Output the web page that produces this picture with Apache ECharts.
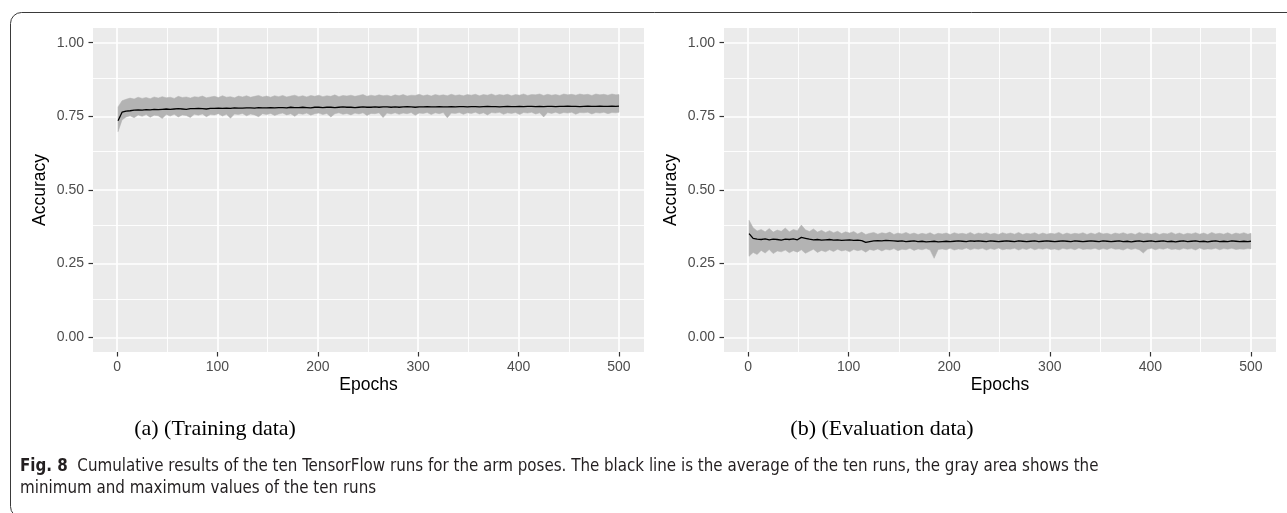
<!DOCTYPE html>
<html>
<head>
<meta charset="utf-8">
<script src="https://cdn.jsdelivr.net/npm/echarts@6/dist/echarts.min.js"></script>
<style>
html,body{margin:0;padding:0;background:#fff;}
#chart{width:1287px;height:513px;}
</style>
</head>
<body>
<div id="chart"></div>
<script>
// ---- data ----
const epochs = [1,5,9,13,17,21,25,29,33,37,41,45,49,53,57,61,65,69,73,77,81,85,89,93,97,101,105,109,113,117,121,125,129,133,137,141,145,149,153,157,161,165,169,173,177,181,185,189,193,197,201,205,209,213,217,221,225,229,233,237,241,245,249,253,257,261,265,269,273,277,281,285,289,293,297,301,305,309,313,317,321,325,329,333,337,341,345,349,353,357,361,365,369,373,377,381,385,389,393,397,401,405,409,413,417,421,425,429,433,437,441,445,449,453,457,461,465,469,473,477,481,485,489,493,497,500];

const trainMean = [.735,.764,.768,.769,.771,.772,.771,.773,.772,.774,
.773,.774,.775,.774,.775,.776,.775,.774,.776,.776,
.777,.776,.775,.777,.777,.778,.777,.778,.777,.779,
.778,.778,.779,.779,.778,.780,.779,.779,.780,.779,
.780,.780,.779,.781,.780,.780,.781,.780,.779,.781,
.781,.780,.781,.781,.780,.781,.782,.781,.781,.780,
.781,.782,.781,.781,.782,.781,.782,.782,.781,.782,
.781,.782,.783,.782,.781,.782,.782,.783,.782,.782,
.783,.782,.782,.783,.782,.783,.783,.782,.783,.783,
.782,.783,.784,.783,.783,.782,.783,.784,.783,.783,
.784,.783,.784,.784,.783,.784,.783,.784,.784,.783,
.784,.784,.785,.784,.784,.783,.784,.785,.784,.784,
.785,.784,.784,.785,.784,.785];

const trainMax = [.782,.803,.808,.812,.809,.815,.811,.814,.810,.816,
.812,.817,.813,.815,.811,.818,.814,.816,.812,.817,
.815,.819,.813,.816,.818,.814,.820,.815,.817,.813,
.819,.816,.820,.815,.818,.821,.816,.819,.815,.820,
.817,.821,.816,.819,.822,.817,.820,.816,.821,.818,
.822,.817,.820,.818,.823,.817,.821,.819,.822,.818,
.821,.824,.818,.822,.819,.823,.820,.822,.818,.823,
.820,.824,.819,.822,.821,.825,.820,.823,.819,.824,
.821,.823,.820,.825,.821,.823,.820,.824,.822,.825,
.820,.824,.822,.826,.821,.824,.822,.825,.820,.824,
.822,.826,.821,.824,.823,.826,.821,.825,.822,.824,
.821,.826,.823,.825,.822,.826,.823,.825,.821,.826,
.823,.825,.822,.826,.823,.824];

const trainMin = [.698,.738,.748,.752,.745,.755,.750,.756,.747,.754,
.752,.743,.756,.751,.757,.748,.755,.753,.746,.757,
.754,.758,.749,.756,.755,.759,.751,.757,.744,.758,
.756,.760,.752,.758,.755,.749,.759,.756,.760,.753,
.758,.761,.755,.759,.750,.760,.757,.761,.754,.759,
.761,.756,.760,.748,.759,.762,.757,.760,.755,.761,
.758,.762,.753,.760,.759,.762,.746,.761,.758,.762,
.757,.761,.759,.763,.754,.761,.760,.763,.756,.762,
.759,.763,.745,.761,.760,.763,.757,.762,.760,.764,
.758,.762,.755,.763,.761,.764,.757,.762,.760,.763,
.756,.763,.761,.764,.758,.762,.748,.763,.760,.764,
.759,.763,.761,.764,.757,.763,.762,.764,.758,.763,
.761,.764,.759,.763,.762,.764];

const evalMean = [.352,.336,.333,.332,.334,.331,.333,.332,.330,.333,
.332,.334,.331,.339,.336,.333,.331,.332,.330,.331,
.332,.330,.331,.329,.330,.331,.329,.330,.328,.322,
.325,.327,.328,.327,.329,.328,.327,.326,.327,.325,
.326,.327,.325,.326,.324,.325,.326,.324,.325,.326,
.325,.326,.327,.326,.325,.327,.326,.327,.326,.325,
.327,.326,.325,.326,.327,.326,.325,.327,.326,.325,
.326,.327,.325,.326,.327,.326,.325,.326,.327,.326,
.325,.327,.326,.325,.326,.327,.326,.325,.327,.326,
.325,.326,.327,.325,.326,.324,.326,.327,.325,.326,
.327,.325,.326,.327,.325,.326,.324,.326,.327,.325,
.326,.327,.325,.326,.324,.326,.327,.325,.326,.325,
.327,.326,.325,.326,.325,.326];

const evalMax = [.397,.372,.361,.366,.358,.369,.357,.364,.360,.371,
.358,.366,.362,.381,.365,.359,.368,.357,.363,.356,
.362,.355,.360,.352,.358,.354,.359,.351,.357,.349,
.353,.356,.350,.355,.352,.357,.349,.354,.351,.356,
.350,.354,.349,.353,.350,.355,.348,.353,.351,.354,
.349,.355,.351,.353,.350,.356,.349,.354,.351,.355,
.350,.353,.349,.355,.351,.354,.350,.356,.349,.353,
.351,.355,.349,.354,.350,.353,.351,.356,.349,.354,
.350,.353,.351,.355,.349,.354,.350,.356,.351,.353,
.349,.354,.351,.355,.350,.353,.349,.356,.351,.354,
.350,.355,.349,.353,.351,.356,.350,.354,.349,.353,
.351,.355,.350,.354,.349,.356,.351,.353,.350,.355,
.349,.354,.351,.355,.350,.353];

const evalMin = [.275,.288,.281,.295,.286,.298,.284,.293,.290,.296,
.287,.294,.289,.297,.285,.292,.299,.288,.295,.290,
.297,.291,.299,.293,.296,.290,.298,.294,.297,.289,
.298,.295,.300,.293,.299,.296,.301,.294,.299,.297,
.302,.295,.300,.297,.301,.296,.268,.298,.300,.297,
.302,.296,.300,.298,.303,.297,.301,.299,.302,.296,
.301,.298,.303,.297,.300,.299,.302,.296,.301,.298,
.303,.297,.301,.299,.302,.298,.300,.296,.302,.299,
.301,.297,.303,.298,.300,.299,.302,.297,.301,.298,
.303,.299,.300,.296,.302,.298,.301,.297,.286,.299,
.302,.297,.301,.299,.303,.298,.300,.297,.302,.299,
.301,.296,.303,.298,.300,.299,.302,.297,.301,.299,
.302,.298,.300,.299,.301,.300];

const xTicks = [0,100,200,300,400,500];
const xMinor = [50,150,250,350,450];
const yTicks = [0,0.25,0.5,0.75,1];
const yMinor = [0.125,0.375,0.625,0.875];
const panelLabels = ['(a) (Training data)','(b) (Evaluation data)'];
const xTitle = 'Epochs';
const yTitle = 'Accuracy';

// ---- styling ----
const BAND = '#B3B3B3';
const PANEL_BG = '#EBEBEB';
const TICK_COL = '#333333';
const LABEL_COL = '#4D4D4D';
const SANS = '"Liberation Sans", Arial, Helvetica, sans-serif';
const CAP = '"Liberation Sans Narrow", "DejaVu Sans Condensed", sans-serif';

const grids = [
  {left:93, top:28, width:551, height:324, show:true, backgroundColor:PANEL_BG, borderWidth:0},
  {left:724, top:28, width:552, height:324, show:true, backgroundColor:PANEL_BG, borderWidth:0}
];

function xAxisFor(i){
  return {
    type:'value', gridIndex:i, min:-23.95, max:524.95, position:'bottom',
    axisLine:{show:false, onZero:false},
    splitLine:{show:false},
    axisTick:{show:true, inside:false, customValues:xTicks, length:4.5, lineStyle:{color:TICK_COL, width:1.2}},
    axisLabel:{customValues:xTicks, color:LABEL_COL, fontSize:14, fontFamily:SANS, margin:8}
  };
}
function yAxisFor(i){
  return {
    type:'value', gridIndex:i, min:-0.05, max:1.05, position:'left',
    axisLine:{show:false, onZero:false},
    splitLine:{show:false},
    axisTick:{show:true, inside:false, customValues:yTicks, length:4.5, lineStyle:{color:TICK_COL, width:1.2}},
    axisLabel:{customValues:yTicks, color:LABEL_COL, fontSize:14, fontFamily:SANS, margin:9,
      formatter:v => Number(v).toFixed(2)}
  };
}

function gridMarkLines(){
  const d = [];
  xMinor.forEach(v => d.push({xAxis:v, lineStyle:{color:'#fff', width:0.9, type:'solid'}}));
  yMinor.forEach(v => d.push({yAxis:v, lineStyle:{color:'#fff', width:0.9, type:'solid'}}));
  xTicks.forEach(v => d.push({xAxis:v, lineStyle:{color:'#fff', width:1.7, type:'solid'}}));
  yTicks.forEach(v => d.push({yAxis:v, lineStyle:{color:'#fff', width:1.7, type:'solid'}}));
  return {silent:true, z:1, symbol:['none','none'], label:{show:false}, animation:false, data:d};
}

function panelSeries(i, mins, maxs, means){
  return [
    // invisible carrier for the panel grid lines (drawn under the band)
    {type:'line', xAxisIndex:i, yAxisIndex:i, symbol:'none', z:1,
     data:epochs.map((e,k)=>[e, means[k]]), lineStyle:{width:0, opacity:0},
     markLine:gridMarkLines(), animation:false},
    // min-max ribbon
    {type:'custom', xAxisIndex:i, yAxisIndex:i, z:2, animation:false, silent:true,
     data:epochs.map((e,k)=>[e, mins[k], maxs[k]]),
     renderItem:function(params, api){
       if (params.dataIndex !== 0) return null;
       const pts = [];
       for (let k = 0; k < epochs.length; k++) pts.push(api.coord([epochs[k], maxs[k]]));
       for (let k = epochs.length - 1; k >= 0; k--) pts.push(api.coord([epochs[k], mins[k]]));
       return {type:'polygon', shape:{points:pts}, style:{fill:BAND, stroke:BAND, lineWidth:0.5}};
     }},
    // mean line
    {type:'line', xAxisIndex:i, yAxisIndex:i, symbol:'none', z:3,
     data:epochs.map((e,k)=>[e, means[k]]), lineStyle:{width:1.3, color:'#000'}, animation:false}
  ];
}

const titleFont = '17.5px ' + SANS;
const graphics = [
  {type:'rect', shape:{x:10.5, y:12.5, width:1300, height:505, r:11}, style:{fill:'none', stroke:'#3a3a3a', lineWidth:1}, silent:true},
  {type:'text', x:40, y:190, rotation:Math.PI/2, style:{text:yTitle, font:titleFont, fill:'#000', align:'center', verticalAlign:'middle'}},
  {type:'text', x:671, y:190, rotation:Math.PI/2, style:{text:yTitle, font:titleFont, fill:'#000', align:'center', verticalAlign:'middle'}},
  {type:'text', x:368.5, y:385, style:{text:xTitle, font:titleFont, fill:'#000', align:'center', verticalAlign:'middle'}},
  {type:'text', x:1000, y:385, style:{text:xTitle, font:titleFont, fill:'#000', align:'center', verticalAlign:'middle'}},
  {type:'text', x:215, y:429, style:{text:panelLabels[0], font:'22px "Liberation Serif", "DejaVu Serif", serif', fill:'#000', align:'center', verticalAlign:'middle'}},
  {type:'text', x:882, y:429, style:{text:panelLabels[1], font:'22px "Liberation Serif", "DejaVu Serif", serif', fill:'#000', align:'center', verticalAlign:'middle'}},
  {type:'text', x:20, y:467, style:{
    text:'{b|Fig. 8}  Cumulative results of the ten TensorFlow runs for the arm poses. The black line is the average of the ten runs, the gray area shows the',
    font:'16.8px ' + CAP, fill:'#231f20', align:'left', verticalAlign:'middle',
    rich:{b:{font:'bold 16.8px ' + CAP, fill:'#231f20'}}}},
  {type:'text', x:20, y:489, style:{text:'minimum and maximum values of the ten runs',
    font:'16.8px ' + CAP, fill:'#231f20', align:'left', verticalAlign:'middle'}}
];

const chart = echarts.init(document.getElementById('chart'), null, {renderer:'canvas'});
chart.setOption({
  animation:false,
  backgroundColor:'#fff',
  grid:grids,
  xAxis:[xAxisFor(0), xAxisFor(1)],
  yAxis:[yAxisFor(0), yAxisFor(1)],
  series:[].concat(panelSeries(0, trainMin, trainMax, trainMean), panelSeries(1, evalMin, evalMax, evalMean)),
  graphic:graphics
});
</script>
</body>
</html>
